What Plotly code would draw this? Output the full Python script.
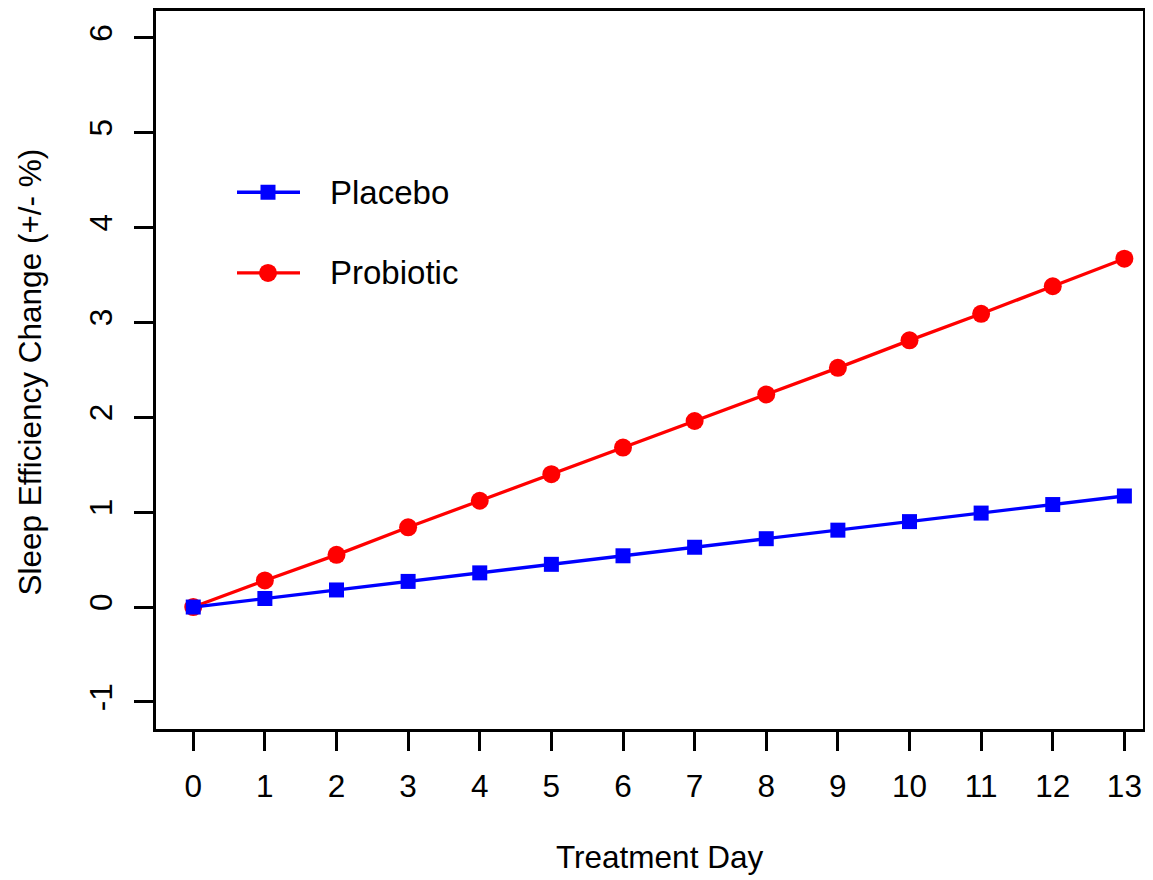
import plotly.graph_objects as go

days = list(range(14))
placebo = [0.00, 0.09, 0.18, 0.27, 0.36, 0.45, 0.54, 0.63, 0.72, 0.81, 0.90, 0.99, 1.08, 1.17]
probiotic = [0.00, 0.28, 0.55, 0.84, 1.12, 1.40, 1.68, 1.96, 2.24, 2.52, 2.81, 3.09, 3.38, 3.67]
x_ticks = list(range(14))
y_ticks = [-1, 0, 1, 2, 3, 4, 5, 6]

FONT = "Liberation Sans, Arial, sans-serif"
FS = 31.5
FS_LEG = 33

fig = go.Figure()
fig.add_trace(go.Scatter(x=days, y=probiotic, mode="lines+markers", name="Probiotic",
                         line=dict(color="#FF0000", width=3.3),
                         marker=dict(symbol="circle", size=18, color="#FF0000")))
fig.add_trace(go.Scatter(x=days, y=placebo, mode="lines+markers", name="Placebo",
                         line=dict(color="#0000FF", width=3.3),
                         marker=dict(symbol="square", size=15, color="#0000FF")))

axis_common = dict(showgrid=False, zeroline=False, showline=True, linecolor="black",
                   linewidth=2.5, mirror=True, ticks="outside", ticklen=19, tickwidth=2.5,
                   tickcolor="black", tickfont=dict(family=FONT, size=FS, color="black"))

fig.update_xaxes(range=[-0.52, 13.26], tickvals=x_ticks, ticktext=[str(t) for t in x_ticks],
                 ticklabelstandoff=8, **axis_common)
fig.update_yaxes(range=[-1.285, 6.28], tickvals=y_ticks, ticktext=[str(t) for t in y_ticks],
                 tickangle=-90, ticklabelstandoff=10, **axis_common)

# page has an 8px body margin; compensate so the plot lands where the reference has it
OFF = 8
W, H = 1153 - OFF, 880 - OFF
L, R, T, B = 156 - OFF, 10, 0, 151
pw, ph = W - L - R, H - T - B
bottom_page = OFF + H - B

def px(xp):
    return (xp - OFF - L) / pw

def py(yp):
    return (bottom_page - yp) / ph

shapes = []
annotations = []
legend_items = [("Placebo", "#0000FF", "square", 190), ("Probiotic", "#FF0000", "circle", 271)]
for name, color, sym, ypix in legend_items:
    shapes.append(dict(type="line", xref="paper", yref="paper", x0=px(237), x1=px(300),
                       y0=py(ypix), y1=py(ypix), line=dict(color=color, width=3.3)))
    if sym == "square":
        shapes.append(dict(type="rect", xref="paper", yref="paper", xsizemode="pixel", ysizemode="pixel",
                           xanchor=px(268), yanchor=py(ypix), x0=-7.5, x1=7.5, y0=-7.5, y1=7.5,
                           fillcolor=color, line=dict(width=0)))
    else:
        shapes.append(dict(type="circle", xref="paper", yref="paper", xsizemode="pixel", ysizemode="pixel",
                           xanchor=px(268), yanchor=py(ypix), x0=-9, x1=9, y0=-9, y1=9,
                           fillcolor=color, line=dict(width=0)))
    annotations.append(dict(text=name, xref="paper", yref="paper", x=px(328), y=py(ypix),
                            xanchor="left", yanchor="middle", showarrow=False,
                            font=dict(family=FONT, size=FS_LEG, color="black")))

annotations.append(dict(text="Treatment Day", xref="paper", yref="paper", x=px(659), y=py(858),
                        xanchor="center", yanchor="middle", showarrow=False,
                        font=dict(family=FONT, size=FS, color="black")))
annotations.append(dict(text="Sleep Efficiency Change (+/- %)", xref="paper", yref="paper",
                        x=px(30), y=py(371), xanchor="center", yanchor="middle", textangle=-90,
                        showarrow=False, font=dict(family=FONT, size=FS, color="black")))

fig.update_layout(width=W, height=H, margin=dict(l=L, r=R, t=T, b=B),
                  plot_bgcolor="white", paper_bgcolor="white", showlegend=False,
                  shapes=shapes, annotations=annotations)

fig.write_html("out.html")
